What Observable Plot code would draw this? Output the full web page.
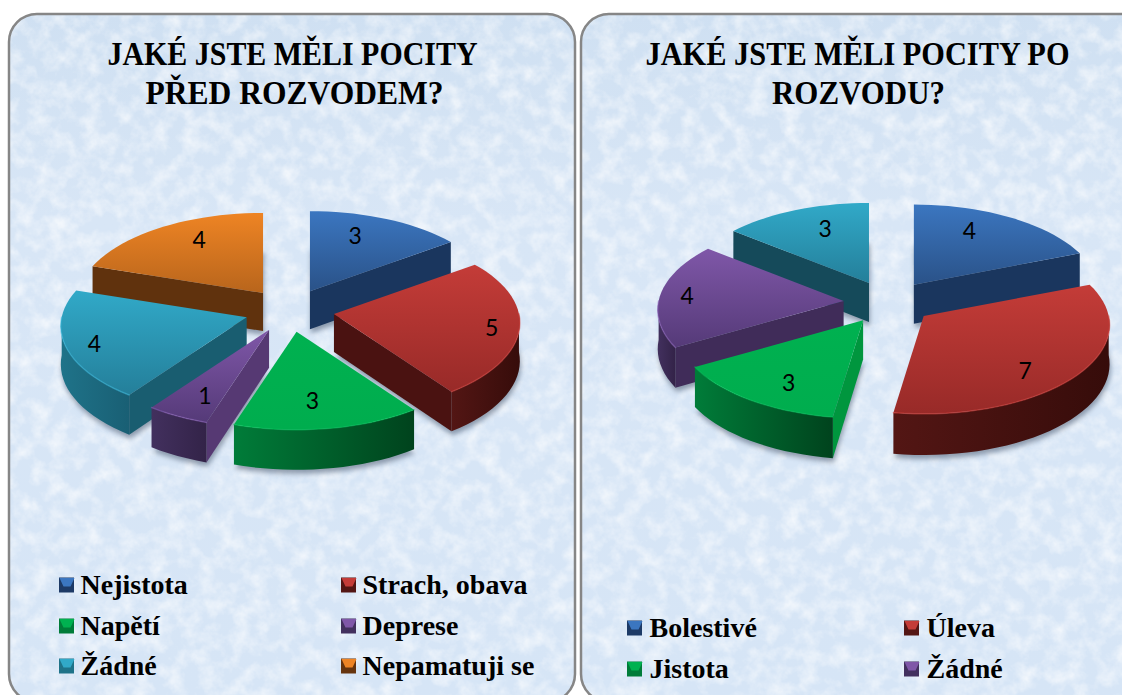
<!DOCTYPE html>
<html lang="cs">
<head>
<meta charset="utf-8">
<script src="https://cdn.jsdelivr.net/npm/d3@7"></script>
<script src="https://cdn.jsdelivr.net/npm/@observablehq/plot@0.6"></script>
<style>html,body{margin:0;padding:0;background:#fff}</style>
</head>
<body>
<div id="chart"></div>
<script>
// ---- chart data ----
const titleBefore = ["JAKÉ JSTE MĚLI POCITY", "PŘED ROZVODEM?"];
const titleAfter = ["JAKÉ JSTE MĚLI POCITY PO", "ROZVODU?"];
const categoriesBefore = ["Nejistota", "Strach, obava", "Napětí", "Deprese", "Žádné", "Nepamatuji se"];
const valuesBefore = [3, 5, 3, 1, 4, 4];
const categoriesAfter = ["Bolestivé", "Úleva", "Jistota", "Žádné"];
const valuesAfter = [4, 7, 3, 4, 3];
const seriesAfter = [0, 1, 2, 3, 4];

// ---- styling per series: blue, red, green, purple, teal, orange ----
const topLight = ["#3b76c0", "#c43c38", "#00b150", "#7f57a8", "#31a9c8", "#ee8424"];
const topDark = ["#2a5288", "#982a28", "#00ad4e", "#553a78", "#247f9a", "#b8651c"];
const wallLeft = ["#1d3a66", "#531614", "#007c39", "#42305e", "#1f7389", "#66340e"];
const wallRight = ["#152c4e", "#360c0a", "#00431d", "#332348", "#195f74", "#4a2608"];
const sideLit = ["#2d5a94", "#7a2523", "#00993f", "#5a3c78", "#1d6e84", "#66340e"];
const sideDark = ["#1a365e", "#4a1211", "#004a20", "#3c2a55", "#154a5a", "#60320d"];

// ---- layout ----
const W = 1122, H = 695;
const RX = 185, RY = 89, PERSP = 0.1, EXPLODE = 45, EXPLODE_Y = 21.6;
const panels = [
  {x1: 9, x2: 575, y1: 14, y2: 702},
  {x1: 581, x2: 1150, y1: 14, y2: 702}
];
const pieBefore = {cx: 289, cy: 310, depth: 38, values: valuesBefore, series: [0, 1, 2, 3, 4, 5],
  reach: [[.59, .76], [.85, 1.07], [.5, .72], [.7, .77], [.84, .96], [.64, .79]]};
const pieAfter = {cx: 888, cy: 302, depth: 39, values: valuesAfter, series: seriesAfter,
  reach: [[.58, .78], [.66, .95], [.66, .79], [.855, -.6], [.6, .73]]};

const rad = (d) => d * Math.PI / 180;
const onRim = (a, deg) => {
  const u = Math.sin(rad(deg)), v = -Math.cos(rad(deg)), p = 1 + PERSP * v;
  return {x: a.x + RX * u * p, y: a.y + RY * v * p};
};
const range = (t0, t1) => {
  const n = Math.max(1, Math.ceil((t1 - t0) / 3));
  return d3.range(n + 1).map((i) => t0 + (t1 - t0) * i / n);
};

// Build the faces of one exploded 3-D pie from its values
function buildPie(pie) {
  const total = d3.sum(pie.values);
  let acc = 0;
  const slices = pie.values.map((value, i) => {
    const t0 = acc / total * 360; acc += value;
    const t1 = acc / total * 360; const mid = (t0 + t1) / 2;
    const apex = {
      x: pie.cx + EXPLODE * Math.sin(rad(mid)),
      y: pie.cy - EXPLODE_Y * Math.cos(rad(mid))
    };
    return {value, i, s: pie.series[i], t0, t1, mid, apex, reach: pie.reach[i], depth: pie.depth};
  });
  return d3.sort(slices, (d) => d.apex.y);
}

const sideColor = (s, deg) => {
  const k = deg > 180 ? Math.pow(Math.max(0, -Math.cos(rad(deg))), 3) : 0;
  return d3.interpolateRgb(sideDark[s], sideLit[s])(k);
};

function sliceMarks(d) {
  const marks = [];
  const L = (pts, o) => Plot.line(pts, {x: "x", y: "y", ...o});
  const sink = (p) => ({x: p.x, y: p.y + d.depth * (1 + 0.05 * (p.y - d.apex.y) / RY)});
  const top = [d.apex, ...range(d.t0, d.t1).map((t) => onRim(d.apex, t))];
  // soft shadow
  marks.push(L(top.map((p) => { const q = sink(p); return {x: q.x + 1, y: q.y + 4}; }), {fill: "#4a5a70", fillOpacity: 0.55, stroke: "none", className: "softshadow"}));
  // radial walls facing the viewer
  const wall = (deg) => {
    const q = onRim(d.apex, deg);
    return L([d.apex, q, sink(q), sink(d.apex)], {fill: sideColor(d.s, deg), stroke: "none"});
  };
  if (Math.sin(rad(d.t1)) > 0.001) marks.push(wall(d.t1));
  if (Math.sin(rad(d.t0)) < -0.001) marks.push(wall(d.t0));
  // outer wall, near side only
  const a = Math.max(d.t0, 90), b = Math.min(d.t1, 270);
  if (b > a) {
    const arc = range(a, b).map((t) => onRim(d.apex, t));
    marks.push(L([...arc, ...arc.slice().reverse().map(sink)], {fill: `url(#wall${d.s})`, stroke: "none"}));
  }
  // top face
  marks.push(L(top, {fill: `url(#top${d.s})`, stroke: "none"}));
  // bevel highlight along the near rim
  if (b > a) {
    marks.push(L(range(a, b).map((t) => onRim(d.apex, t)), {stroke: d3.color(topLight[d.s]).brighter(0.3).formatHex(), strokeWidth: 1.5, strokeOpacity: 0.5}));
  }
  return marks;
}

function labelMark(slices) {
  const rows = slices.map((d) => {
    const full = onRim(d.apex, d.mid);
    return {
      x: d.apex.x + (full.x - d.apex.x) * d.reach[0],
      y: d.apex.y + (d.reach[1] < 0 ? -4 : (full.y - d.apex.y) * d.reach[1]),
      text: String(d.value)
    };
  });
  return Plot.text(rows, {x: "x", y: "y", text: "text", fontFamily: "Lato", fontSize: 23, fill: "#000"});
}

function legendMarks(names, series, x1, x2, rows, textGap) {
  const items = names.map((name, i) => ({
    name, s: series[i],
    x: i % 2 ? x2 : x1,
    y: rows[Math.floor(i / 2)]
  }));
  const out = [];
  const size = 15;
  for (const it of items) {
    out.push(Plot.rect([it], {x1: (d) => d.x, x2: (d) => d.x + size, y1: (d) => d.y - size / 2, y2: (d) => d.y + size / 2, fill: wallLeft[it.s]}));
    out.push(Plot.line([
      {x: it.x, y: it.y - size / 2},
      {x: it.x + size, y: it.y - size / 2},
      {x: it.x + size - 4, y: it.y + 1},
      {x: it.x + 4, y: it.y + 1}
    ], {x: "x", y: "y", fill: topLight[it.s], stroke: "none"}));
  }
  out.push(Plot.text(items, {x: (d) => d.x + textGap, y: "y", text: "name", textAnchor: "start", fontFamily: "Liberation Serif", fontWeight: "bold", fontSize: 28, fill: "#000"}));
  return out;
}

const defsMark = () => {
  const stops = topLight.map((c, s) => `
    <linearGradient id="top${s}" x1="0" y1="0" x2="0" y2="1"><stop offset="0" stop-color="${c}"/><stop offset="1" stop-color="${topDark[s]}"/></linearGradient>
    <linearGradient id="wall${s}" x1="0" y1="0" x2="1" y2="0"><stop offset="0" stop-color="${wallLeft[s]}"/><stop offset="1" stop-color="${wallRight[s]}"/></linearGradient>`).join("");
  const g = d3.create("svg:defs");
  g.html(`${stops}
    <linearGradient id="panelFill" x1="0" y1="0" x2="0" y2="1"><stop offset="0" stop-color="#cfe0f2"/><stop offset=".3" stop-color="#d8e6f6"/><stop offset="1" stop-color="#d6e5f6"/></linearGradient>
    <filter id="mottle" x="0" y="0" width="1" height="1">
      <feTurbulence type="fractalNoise" baseFrequency="0.06" numOctaves="4" seed="7"/>
      <feColorMatrix values="0 0 0 0 1  0 0 0 0 1  0 0 0 0 1  1.3 0 0 0 -0.5"/>
      <feComposite in2="SourceGraphic" operator="in"/>
    </filter>`);
  return g.node();
};

const slicesBefore = buildPie(pieBefore);
const slicesAfter = buildPie(pieAfter);

const titleRows = [
  {text: titleBefore[0], x: 292, y: 54, w: 370},
  {text: titleBefore[1], x: 294, y: 93, w: 298},
  {text: titleAfter[0], x: 857, y: 54, w: 424},
  {text: titleAfter[1], x: 858, y: 93, w: 173}
];

const chart = Plot.plot({
  width: W, height: H,
  margin: 0,
  x: {domain: [0, W], range: [0, W], axis: null},
  y: {domain: [0, H], range: [0, H], axis: null},
  style: {background: "#fff", overflow: "hidden"},
  marks: [
    defsMark,
    Plot.rect(panels, {x1: "x1", x2: "x2", y1: "y1", y2: "y2", rx: 28, fill: "url(#panelFill)"}),
    Plot.rect(panels, {x1: "x1", x2: "x2", y1: "y1", y2: "y2", rx: 28, fill: "#fff", className: "mottled"}),
    Plot.rect(panels, {x1: "x1", x2: "x2", y1: "y1", y2: "y2", rx: 28, fill: "none", stroke: "#868686", strokeWidth: 2.5}),
    ...slicesBefore.flatMap(sliceMarks),
    ...slicesAfter.flatMap(sliceMarks),
    labelMark(slicesBefore),
    labelMark(slicesAfter),
    Plot.text(titleRows, {x: "x", y: "y", text: "text", fontFamily: "Liberation Serif", fontWeight: "bold", fontSize: 34, fill: "#000", className: "bigtitle"}),
    ...legendMarks(categoriesBefore, pieBefore.series, 59, 341, [585, 626, 666], 21),
    ...legendMarks(categoriesAfter, seriesAfter, 627, 904, [628, 669], 22)
  ]
});

const root = d3.select(chart);
root.selectAll("g.softshadow").style("filter", "blur(2.5px)");
root.selectAll("g.mottled").attr("filter", "url(#mottle)");
root.selectAll("g.bigtitle text").each(function (_, i) {
  d3.select(this).attr("textLength", titleRows[i].w).attr("lengthAdjust", "spacingAndGlyphs");
});
document.getElementById("chart").appendChild(chart);
</script>
</body>
</html>
